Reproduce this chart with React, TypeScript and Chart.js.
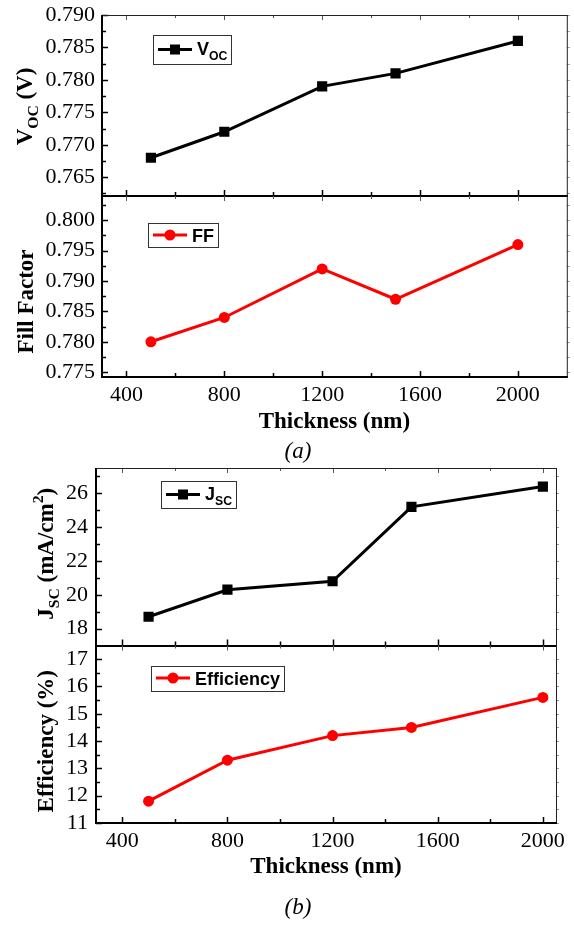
import React, { useEffect, useRef } from 'react';
import { Chart, registerables } from 'chart.js';
Chart.register(...registerables);

// ---------- data ----------
const thickness = [500, 800, 1200, 1500, 2000];
const vocValues = [0.768, 0.772, 0.779, 0.781, 0.786];
const ffValues = [0.78, 0.784, 0.792, 0.787, 0.796];
const jscValues = [18.7, 20.3, 20.8, 25.2, 26.4];
const effValues = [11.8, 13.3, 14.2, 14.5, 15.6];

const xTicks = [400, 800, 1200, 1600, 2000];
const vocTicks = [0.765, 0.77, 0.775, 0.78, 0.785, 0.79];
const ffTicks = [0.775, 0.78, 0.785, 0.79, 0.795, 0.8];
const jscTicks = [18, 20, 22, 24, 26];
const effTicks = [11, 12, 13, 14, 15, 16, 17];

const SERIF = '"Liberation Serif", "Times New Roman", serif';
const SANS = '"Liberation Sans", Arial, sans-serif';

type Part = { t: string; k?: 'sub' | 'sup' };

function richWidth(ctx: CanvasRenderingContext2D, parts: Part[], size: number, family: string, weight: string) {
  let w = 0;
  for (const p of parts) {
    const s = p.k ? size * 0.68 : size;
    ctx.font = `${weight} ${s}px ${family}`;
    w += ctx.measureText(p.t).width;
  }
  return w;
}

function drawRich(ctx: CanvasRenderingContext2D, parts: Part[], x: number, y: number, size: number, family: string, weight: string) {
  let cx = x;
  for (const p of parts) {
    const s = p.k ? size * 0.68 : size;
    ctx.font = `${weight} ${s}px ${family}`;
    const dy = p.k === 'sub' ? size * 0.28 : p.k === 'sup' ? -size * 0.42 : 0;
    ctx.fillText(p.t, cx, y + dy);
    cx += ctx.measureText(p.t).width;
  }
  return cx - x;
}

function drawMarker(ctx: CanvasRenderingContext2D, shape: string, x: number, y: number, color: string) {
  ctx.fillStyle = color;
  if (shape === 'rect') {
    ctx.fillRect(x - 5, y - 5, 10, 10);
  } else {
    ctx.beginPath();
    ctx.arc(x, y, 5.5, 0, Math.PI * 2);
    ctx.fill();
  }
}

const framePlugin = {
  id: 'frame',
  afterDraw(chart: any, _args: any, opts: any) {
    const ctx: CanvasRenderingContext2D = chart.ctx;
    const xs = chart.scales.x;
    const { left, right } = chart.chartArea;
    ctx.save();
    const xStep = xTicks[1] - xTicks[0];
    const xMinor = xTicks.map((t) => t + xStep / 2).concat([xTicks[0] - xStep / 2]).filter((v) => v > xs.min && v < xs.max);
    opts.panels.forEach((p: any) => {
      const ys = chart.scales[p.id];
      const top = ys.top;
      const bottom = ys.bottom;
      const isTop = top <= chart.chartArea.top + 1;
      const step = p.ticks[1] - p.ticks[0];
      const minor = p.ticks
        .map((t: number) => t + step / 2)
        .concat([p.ticks[0] - step / 2])
        .filter((v: number) => v > ys.min + 1e-9 && v < ys.max - 1e-9);
      ctx.lineCap = 'butt';
      // left ticks (inward)
      ctx.strokeStyle = '#000';
      ctx.lineWidth = 1.5;
      ctx.beginPath();
      for (const v of p.ticks) {
        const y = Math.round(ys.getPixelForValue(v)) + 0.5;
        ctx.moveTo(left, y);
        ctx.lineTo(left + 6, y);
      }
      for (const v of minor) {
        const y = Math.round(ys.getPixelForValue(v)) + 0.5;
        ctx.moveTo(left, y);
        ctx.lineTo(left + 4, y);
      }
      ctx.stroke();
      // right ticks (outward, faint)
      ctx.strokeStyle = '#999';
      ctx.lineWidth = 1;
      ctx.beginPath();
      for (const v of p.ticks.concat(minor)) {
        const y = Math.round(ys.getPixelForValue(v)) + 0.5;
        ctx.moveTo(right, y);
        ctx.lineTo(right + 3, y);
      }
      ctx.stroke();
      // x ticks on bottom (up) and top (down)
      ctx.strokeStyle = '#000';
      ctx.lineWidth = 1.5;
      ctx.beginPath();
      for (const v of xTicks) {
        const x = Math.round(xs.getPixelForValue(v)) + 0.5;
        ctx.moveTo(x, bottom);
        ctx.lineTo(x, bottom - 6);
      }
      for (const v of xMinor) {
        const x = Math.round(xs.getPixelForValue(v)) + 0.5;
        ctx.moveTo(x, bottom);
        ctx.lineTo(x, bottom - 4);
      }
      ctx.stroke();
      ctx.strokeStyle = '#555';
      ctx.lineWidth = 1;
      ctx.beginPath();
      for (const v of xTicks) {
        const x = Math.round(xs.getPixelForValue(v)) + 0.5;
        ctx.moveTo(x, top);
        ctx.lineTo(x, top + 5);
      }
      for (const v of xMinor) {
        const x = Math.round(xs.getPixelForValue(v)) + 0.5;
        ctx.moveTo(x, top);
        ctx.lineTo(x, top + 3);
      }
      ctx.stroke();
      // frame
      ctx.strokeStyle = '#222';
      ctx.lineWidth = 1;
      ctx.beginPath();
      ctx.moveTo(right + 0.5, top);
      ctx.lineTo(right + 0.5, bottom);
      if (isTop) {
        ctx.moveTo(left, Math.round(top) + 0.5);
        ctx.lineTo(right + 1, Math.round(top) + 0.5);
      }
      ctx.stroke();
      ctx.strokeStyle = '#000';
      ctx.lineWidth = 2;
      ctx.beginPath();
      ctx.moveTo(left, top);
      ctx.lineTo(left, bottom + 1);
      ctx.moveTo(left - 1, Math.round(bottom));
      ctx.lineTo(right + 1, Math.round(bottom));
      ctx.stroke();

      // y title (rotated, rich)
      const tsize = 23;
      const tw = richWidth(ctx, p.title, tsize, SERIF, 'bold');
      ctx.save();
      ctx.fillStyle = '#000';
      ctx.textBaseline = 'alphabetic';
      ctx.textAlign = 'left';
      ctx.translate(p.titleX, (top + bottom) / 2 + p.titleDy);
      ctx.rotate(-Math.PI / 2);
      drawRich(ctx, p.title, -tw / 2, 0, tsize, SERIF, 'bold');
      ctx.restore();

      // legend box
      const lg = p.legend;
      const lsize = 18;
      const lw = richWidth(ctx, lg.text, lsize, SANS, 'bold');
      const bx = left + lg.dx;
      const by = top + lg.dy;
      const bw = 44 + lw + 4;
      const bh = lg.h;
      ctx.fillStyle = '#fff';
      ctx.fillRect(bx, by, bw, bh);
      ctx.strokeStyle = '#333';
      ctx.lineWidth = 1;
      ctx.strokeRect(Math.round(bx) + 0.5, Math.round(by) + 0.5, Math.round(bw), Math.round(bh));
      const my = by + bh / 2;
      ctx.strokeStyle = lg.color;
      ctx.lineWidth = 3;
      ctx.beginPath();
      ctx.moveTo(bx + 5, my);
      ctx.lineTo(bx + 39, my);
      ctx.stroke();
      drawMarker(ctx, lg.shape, bx + 22, my, lg.color);
      ctx.fillStyle = '#000';
      ctx.textAlign = 'left';
      ctx.textBaseline = 'alphabetic';
      drawRich(ctx, lg.text, bx + 44, my + 6.5 + (lg.shift || 0), lsize, SANS, 'bold');
    });
    // caption
    ctx.fillStyle = '#000';
    ctx.textAlign = 'center';
    ctx.textBaseline = 'middle';
    ctx.font = `italic 23px ${SERIF}`;
    ctx.fillText(opts.caption, opts.captionX, chart.chartArea.bottom + opts.captionDy);
    ctx.restore();
  },
};

function yScale(min: number, max: number, ticks: number[], decimals: number, width: number, pad: number) {
  return {
    type: 'linear',
    position: 'left',
    stack: 'panels',
    stackWeight: 1,
    min,
    max,
    afterBuildTicks: (s: any) => {
      s.ticks = ticks.map((v) => ({ value: v }));
    },
    afterFit: (s: any) => {
      s.width = width;
      s.paddingTop = 0;
      s.paddingBottom = 0;
    },
    grid: { display: false, drawTicks: false },
    border: { display: false },
    ticks: {
      autoSkip: false,
      padding: pad,
      color: '#000',
      font: { family: SERIF, size: 22 },
      callback: (v: any) => Number(v).toFixed(decimals),
    },
  };
}

function xScale(max: number, height: number, titlePad: number) {
  return {
    type: 'linear',
    min: 300,
    max,
    afterBuildTicks: (s: any) => {
      s.ticks = xTicks.map((v) => ({ value: v }));
    },
    afterFit: (s: any) => {
      s.height = height;
      s.paddingLeft = 0;
      s.paddingRight = 0;
    },
    grid: { display: false, drawTicks: false },
    border: { display: false },
    ticks: {
      autoSkip: false,
      padding: 5,
      color: '#000',
      font: { family: SERIF, size: 22 },
      maxRotation: 0,
      callback: (v: any) => String(v),
    },
    title: {
      display: true,
      text: 'Thickness (nm)',
      color: '#000',
      font: { family: SERIF, size: 23, weight: 'bold' },
      padding: { top: 0, bottom: titlePad },
    },
  };
}

function series(values: number[], axis: string, color: string, shape: string) {
  return {
    data: thickness.map((x, i) => ({ x, y: values[i] })),
    yAxisID: axis,
    borderColor: color,
    backgroundColor: color,
    borderWidth: 3,
    pointStyle: shape,
    pointRadius: shape === 'rect' ? 7.2 : 5.5,
    pointBorderWidth: 0,
    pointBackgroundColor: color,
    tension: 0,
  };
}

function useChart(ref: React.RefObject<HTMLCanvasElement>, make: () => any) {
  useEffect(() => {
    const chart = new Chart(ref.current as HTMLCanvasElement, make());
    return () => chart.destroy();
  }, []);
}

export default function App() {
  const refA = useRef<HTMLCanvasElement>(null);
  const refB = useRef<HTMLCanvasElement>(null);

  useChart(refA, () => ({
    type: 'line',
    data: {
      datasets: [series(vocValues, 'yV', '#000', 'rect'), series(ffValues, 'yF', '#ff0000', 'circle')],
    },
    options: {
      animation: false,
      responsive: false,
      layout: { padding: { top: 15, right: 3, left: 0, bottom: 0 } },
      scales: {
        x: xScale(2200, 93, 34),
        yF: yScale(0.7742, 0.804, ffTicks, 3, 102, 7),
        yV: yScale(0.7621, 0.79, vocTicks, 3, 102, 7),
      },
      plugins: {
        legend: { display: false },
        tooltip: { enabled: false },
        frame: {
          caption: '(a)',
          captionX: 298,
          captionDy: 75,
          panels: [
            {
              id: 'yV',
              ticks: vocTicks,
              title: [{ t: 'V' }, { t: 'OC', k: 'sub' }, { t: ' (V)' }],
              titleX: 32,
              titleDy: 1,
              legend: { text: [{ t: 'V' }, { t: 'OC', k: 'sub' }], color: '#000', shape: 'rect', dx: 51, dy: 20, h: 29, shift: -1 },
            },
            {
              id: 'yF',
              ticks: ffTicks,
              title: [{ t: 'Fill Factor' }],
              titleX: 33,
              titleDy: 15,
              legend: { text: [{ t: 'FF' }], color: '#ff0000', shape: 'circle', dx: 46, dy: 27, h: 24 },
            },
          ],
        },
      },
    },
    plugins: [framePlugin],
  }));

  useChart(refB, () => ({
    type: 'line',
    data: {
      datasets: [series(jscValues, 'yJ', '#000', 'rect'), series(effValues, 'yE', '#ff0000', 'circle')],
    },
    options: {
      animation: false,
      responsive: false,
      layout: { padding: { top: 8, right: 18, left: 0, bottom: 0 } },
      scales: {
        x: xScale(2050, 102, 44),
        yE: yScale(11, 17.5, effTicks, 0, 96, 8),
        yJ: yScale(17, 27.5, jscTicks, 0, 96, 8),
      },
      plugins: {
        legend: { display: false },
        tooltip: { enabled: false },
        frame: {
          caption: '(b)',
          captionX: 298,
          captionDy: 85,
          panels: [
            {
              id: 'yJ',
              ticks: jscTicks,
              title: [{ t: 'J' }, { t: 'SC', k: 'sub' }, { t: ' (mA/cm' }, { t: '2', k: 'sup' }, { t: ')' }],
              titleX: 53,
              titleDy: -3,
              legend: { text: [{ t: 'J' }, { t: 'SC', k: 'sub' }], color: '#000', shape: 'rect', dx: 65, dy: 13, h: 27, shift: -1 },
            },
            {
              id: 'yE',
              ticks: effTicks,
              title: [{ t: 'Efficiency (%)' }],
              titleX: 53,
              titleDy: 7,
              legend: { text: [{ t: 'Efficiency' }], color: '#ff0000', shape: 'circle', dx: 55, dy: 20, h: 25 },
            },
          ],
        },
      },
    },
    plugins: [framePlugin],
  }));

  return (
    <div style={{ position: 'absolute', left: 0, top: 0, width: 574, height: 925, background: '#fff' }}>
      <canvas ref={refA} width={574} height={470} style={{ position: 'absolute', left: 0, top: 0, display: 'block' }} />
      <canvas ref={refB} width={574} height={465} style={{ position: 'absolute', left: 0, top: 460, display: 'block' }} />
    </div>
  );
}
